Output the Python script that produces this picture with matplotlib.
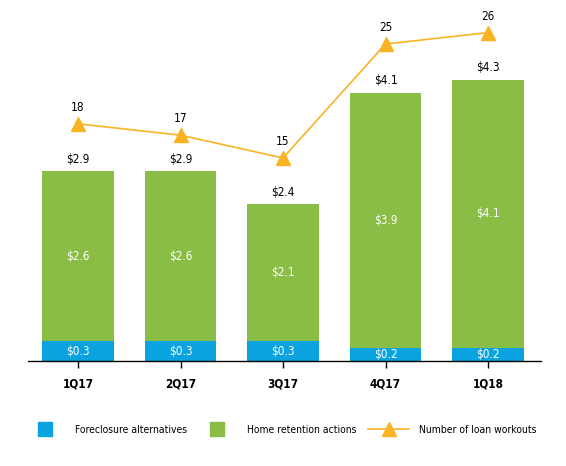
import matplotlib.pyplot as plt
from matplotlib.lines import Line2D

plt.rcParams['font.family'] = ['DejaVu Sans']
plt.rcParams['font.stretch'] = 'condensed'

quarters = ["1Q17", "2Q17", "3Q17", "4Q17", "1Q18"]
foreclosure = [0.3, 0.3, 0.3, 0.2, 0.2]
retention = [2.6, 2.6, 2.1, 3.9, 4.1]
totals = [2.9, 2.9, 2.4, 4.1, 4.3]
workouts = [18, 17, 15, 25, 26]

blue = "#0AA3DF"
green = "#8ABD45"
orange = "#F9B323"

fig = plt.figure(figsize=(5.66, 4.66), dpi=100)
W, H = 566, 466
left, right, bottom, top = 28, 541, 361, 21
ax = fig.add_axes([left / W, (H - bottom) / H, (right - left) / W, (bottom - top) / H])

x = list(range(len(quarters)))
ax.bar(x, foreclosure, width=0.7, color=blue)
ax.bar(x, retention, width=0.7, bottom=foreclosure, color=green)

fs = 8.5
for i in x:
    ax.text(i, foreclosure[i] / 2, f"${foreclosure[i]:.1f}", ha="center", va="center",
            color="white", fontsize=fs)
    ax.text(i, foreclosure[i] + retention[i] / 2, f"${retention[i]:.1f}", ha="center",
            va="center", color="white", fontsize=fs)
    ax.annotate(f"${totals[i]:.1f}", (i, totals[i]), xytext=(0, 4), textcoords="offset points",
                ha="center", va="bottom", fontsize=fs)

ax.set_xlim(-0.488, 4.517)
ax.set_ylim(0, 5.2)
ax.set_xticks(x)
ax.set_xticklabels(quarters, fontweight="bold", fontsize=fs)
ax.tick_params(axis="x", length=5, width=1, pad=7)
ax.set_yticks([])
for s in ["top", "left", "right"]:
    ax.spines[s].set_visible(False)
ax.spines["bottom"].set_linewidth(1)

ax2 = ax.twinx()
ax2.plot(x, workouts, color=orange, linewidth=1.2, marker="^", markersize=10,
         markerfacecolor=orange, markeredgecolor=orange, clip_on=False)
for i in x:
    ax2.annotate(str(workouts[i]), (i, workouts[i]), xytext=(0, 7), textcoords="offset points",
                 ha="center", va="bottom", fontsize=fs)
ax2.set_ylim(-32 / 11.4, (329 - top) / 11.4)
ax2.set_yticks([])
for s in ["top", "left", "right", "bottom"]:
    ax2.spines[s].set_visible(False)

# legend: one entry per legend so each sits where the reference has it
lfs = 7.5
em = lfs * 100 / 72
ly = (H - 430) / H
entries = [
    (Line2D([], [], marker="s", linestyle="none", markersize=10, color=blue),
     "Foreclosure alternatives", 45, 75, 1.0),
    (Line2D([], [], marker="s", linestyle="none", markersize=10, color=green),
     "Home retention actions", 217, 247, 1.0),
    (Line2D([], [], marker="^", color=orange, linewidth=1.2, markersize=10),
     "Number of loan workouts", 388.5, 419, 4.0),
]
for h, lab, cx, tx, hl in entries:
    box_start = cx - hl * em / 2
    pad = (tx - (box_start + hl * em)) / em
    fig.legend([h], [lab], loc="center left", bbox_to_anchor=(box_start / W, ly),
               frameon=False, fontsize=lfs, handlelength=hl, handletextpad=pad,
               borderpad=0, borderaxespad=0)

fig.savefig("out.png", dpi=100)
